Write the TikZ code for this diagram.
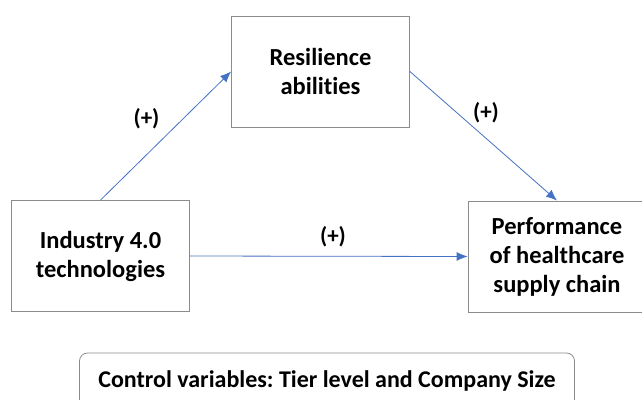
\documentclass[tikz,border=0pt]{standalone}
\usepackage{fontspec}
\setmainfont{Carlito}[Ligatures={NoCommon}]
\usepackage{tikz}
\usetikzlibrary{positioning,arrows.meta}

\definecolor{linkblue}{HTML}{4472C4}
\definecolor{framegray}{HTML}{8C8C8C}
\frenchspacing

\begin{document}
\begin{tikzpicture}[x=1pt,y=-1pt]
    \tikzstyle{block}=[draw=framegray,line width=0.8pt,minimum width=178pt,minimum height=111pt,
        align=center,font=\fontsize{24.5}{29}\selectfont\bfseries]
    \tikzstyle{link}=[draw=linkblue,line width=0.8pt,-{Latex[length=11pt,width=9pt]}]
    \tikzstyle{sign}=[font=\fontsize{23}{28}\selectfont\bfseries]

    \useasboundingbox (0,0) rectangle (642,399);
    \clip (0,0) rectangle (642,399);

    \node[block] (tech) at (100.5,256) {Industry 4.0\\technologies};
    \node[block] (resil) at (320.5,71.5) {Resilience\\abilities};
    \node[block] (perf) at (557,256.5) {Performance\\of healthcare\\supply chain};

    \node[draw=framegray,line width=0.8pt,rounded corners=8pt,minimum width=495pt,minimum height=56pt,
        font=\fontsize{24}{28}\selectfont\bfseries] (ctrl) at (327,381) {Control variables: Tier level and Company Size};

    \draw[link] (tech.north) -- (resil.west);
    \draw[link] (resil.east) -- (perf.north);
    \draw[link] (tech.east) -- (perf.west);

    \node[sign] (s1) at (146.5,119) {(+)};
    \node[sign] (s2) at (486,113) {(+)};
    \node[sign] (s3) at (333,237) {(+)};
\end{tikzpicture}
\end{document}
